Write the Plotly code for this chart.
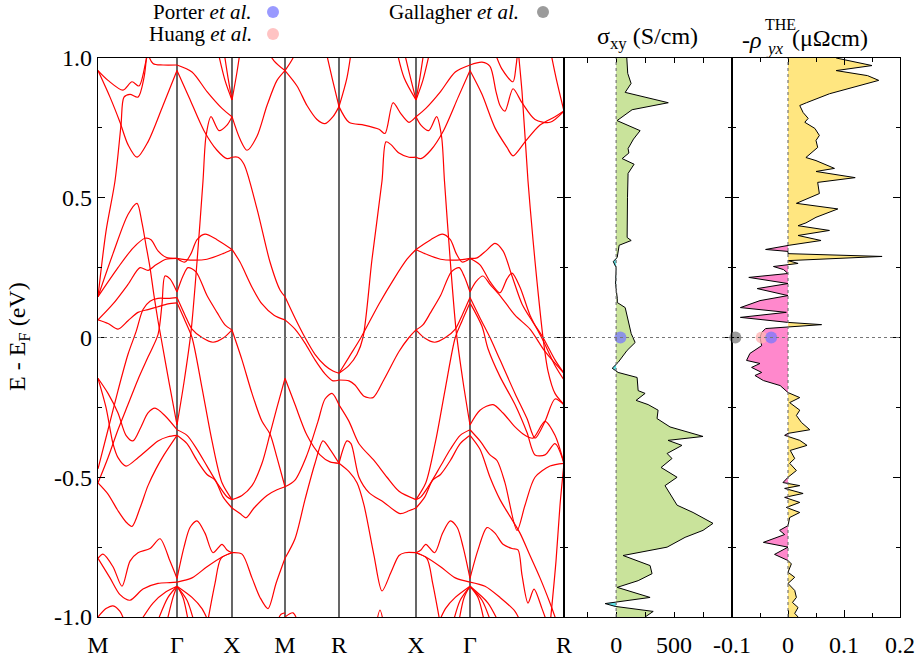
import plotly.graph_objects as go

# ---------------- band structure (k in path units, E in eV) ----------------
kpath_labels = ["M", "Γ", "X", "M", "R", "X", "Γ", "R"]
kpath_pos = [0, 79, 134, 187, 241, 318, 372, 466]

# bands along M-Γ  (d measured from M, segment length 79)
MG_bands = [
    [(0, .955), (10, .92), (25, .885), (34, .915), (41, .90), (48, .99), (53, 1.07)],
    [(0, .955), (12, .86), (22, .77), (30, .69), (39, .645), (50, .70), (65, .83), (79, .955)],
    [(0, .146), (8, .38), (17, .56), (23, .76), (26, .86), (32, .87), (40, .86), (46, .93), (50, 1.07)],
    [(45, 1.07), (55, .98), (65, .975), (79, .975)],
    [(0, .146), (15, .30), (30, .44), (39, .48), (44, .41), (48, .33), (52, .25), (56, .15), (60, .06),
     (63, 0.0), (71, -.16), (79, -.313)],
    [(0, .146), (20, .25), (35, .32), (47, .355), (53, .35), (60, .31), (68, .287), (79, .283)],
    [(0, .063), (15, .12), (30, .19), (42, .25), (50, .24), (58, .26), (68, .28), (79, .283)],
    [(0, -.52), (10, -.43), (20, -.33), (30, -.24), (40, -.15), (50, -.07), (60, .01), (64, .12),
     (67, .22), (72, .21), (79, .163)],
    [(0, -.47), (10, -.33), (20, -.19), (30, -.06), (38, .02), (45, .10), (52, .13), (60, .14), (70, .14),
     (79, .143)],
    [(0, .063), (10, .05), (20, .03), (30, .06), (40, .09), (50, .10), (60, .11), (70, .12), (79, .124)],
    [(0, -.146), (10, -.20), (20, -.27), (28, -.35), (35, -.37), (43, -.32), (50, -.27), (57, -.253),
     (67, -.28), (79, -.33)],
    [(0, -.146), (8, -.25), (15, -.38), (20, -.43), (28, -.46), (40, -.43), (50, -.40), (60, -.37),
     (70, -.355), (79, -.35)],
    [(0, -.52), (10, -.56), (20, -.62), (28, -.66), (34, -.676), (42, -.61), (50, -.53), (58, -.47),
     (66, -.42), (79, -.35)],
    [(0, -.79), (5, -.775), (15, -.82), (24, -.89), (32, -.80), (40, -.77), (52, -.755), (62, -.72),
     (72, -.80), (79, -.862)],
    [(0, -.79), (12, -.86), (22, -.92), (32, -.94), (45, -.90), (60, -.88), (72, -.877), (79, -.875)],
    [(0, -1.0), (8, -.97), (15, -.96), (22, -.98), (28, -1.03)],
    [(40, -1.03), (55, -.95), (68, -.91), (79, -.89)],
    [(58, -1.03), (70, -.93), (79, -.89)],
    [(68, -1.03), (75, -.93), (79, -.89)],
]

# bands along Γ-X (d measured from Γ, length 55); same path X-Γ later in the route
GX_bands = [
    [(0, .975), (15, .95), (30, .88), (45, .82), (55, .79)],
    [(0, .955), (12, .86), (27, .74), (40, .67), (50, .64), (55, .645)],
    [(0, -.313), (7, -.16), (14, .02), (20, .27), (26, .56), (29, .72), (34, .79), (42, .74), (50, .76),
     (55, .79)],
    [(38, 1.07), (48, .92), (55, .85)],
    [(45, 1.07), (51, .93), (55, .85)],
    [(0, .283), (13, .277), (30, .28), (46, .30), (55, .315)],
    [(0, .283), (8, .27), (14, .30), (20, .35), (28, .37), (40, .35), (55, .315)],
    [(0, .163), (6, .22), (11, .25), (19, .235), (30, .15), (40, .09), (48, .045), (55, .027)],
    [(0, .143), (8, .08), (15, .03), (25, 0.0), (36, -.017), (47, 0.0), (55, .027)],
    [(0, .124), (8, .06), (15, 0.0), (25, -.18), (35, -.37), (45, -.52), (55, -.58)],
    [(0, -.33), (10, -.35), (20, -.40), (30, -.46), (40, -.52), (50, -.57), (55, -.58)],
    [(0, -.35), (10, -.38), (20, -.44), (30, -.49), (38, -.51), (46, -.57), (55, -.61)],
    [(0, -.862), (7, -.75), (13, -.68), (20, -.656), (28, -.70), (36, -.77), (45, -.74), (50, -.76),
     (55, -.77)],
    [(0, -.875), (15, -.86), (30, -.82), (45, -.785), (55, -.77)],
    [(0, -.89), (6, -.93), (12, -1.03)],
    [(0, -.89), (10, -.94), (18, -1.03)],
    [(0, -.89), (15, -.93), (25, -.97), (33, -1.03)],
    [(30, -1.03), (38, -.88), (44, -.79), (55, -.77)],
]

# bands along X-M (d from X, length 53)
XM_bands = [
    [(0, .645), (6, .645), (12, .62), (25, .46), (38, .27), (48, .17), (53, .146)],
    [(0, .79), (8, .71), (15, .67), (25, .72), (35, .83), (45, .92), (53, .955)],
    [(0, .85), (5, .95), (10, 1.07)],
    [(28, 1.07), (42, .99), (53, .955)],
    [(0, .315), (8, .27), (20, .18), (30, .12), (42, .08), (53, .063)],
    [(0, .027), (10, -.08), (20, -.20), (30, -.30), (38, -.345), (45, -.43), (53, -.534)],
    [(0, -.58), (10, -.565), (20, -.53), (30, -.45), (38, -.345), (45, -.25), (53, -.146)],
    [(0, -.61), (8, -.63), (14, -.645), (22, -.61), (35, -.565), (45, -.545), (53, -.534)],
    [(0, -.77), (10, -.775), (20, -.86), (28, -.93), (36, -.97), (44, -.88), (53, -.79)],
    [(44, -1.03), (49, -.99), (53, -.985)],
]

# bands along M-R (d from M, length 54)
MR_bands = [
    [(0, .955), (12, .90), (22, .83), (32, .78), (40, .765), (48, .79), (54, .826)],
    [(0, .955), (8, 1.0), (15, 1.07)],
    [(38, 1.07), (47, .93), (54, .826)],
    [(0, .146), (10, .07), (20, 0.0), (30, -.06), (40, -.10), (48, -.12), (54, -.128)],
    [(0, .063), (10, .03), (20, -.02), (30, -.08), (40, -.13), (48, -.155), (54, -.152)],
    [(0, -.146), (10, -.24), (22, -.35), (35, -.42), (45, -.445), (54, -.45)],
    [(0, -.534), (10, -.51), (22, -.42), (33, -.30), (40, -.22), (47, -.20), (54, -.241)],
    [(0, -.79), (10, -.72), (20, -.58), (30, -.45), (38, -.37), (45, -.40), (54, -.45)],
    [(0, -1.0), (8, -.985), (14, -1.03)],
]

# bands along R-X (d from R, length 77)
RX_bands = [
    [(0, .826), (8, .93), (14, 1.07)],
    [(0, .826), (10, .77), (25, .76), (40, .745), (46, .73), (54, .84), (62, .80), (70, .77), (77, .79)],
    [(0, -.128), (10, -.10), (18, -.06), (24, 0.0), (33, .28), (43, .56), (47, .70), (52, .69), (60, .66),
     (70, .645), (77, .645)],
    [(55, 1.07), (65, .93), (77, .85)],
    [(62, 1.07), (70, .95), (77, .85)],
    [(0, -.128), (10, -.07), (22, 0.0), (40, .12), (55, .21), (68, .28), (77, .315)],
    [(0, -.152), (10, -.155), (16, -.17), (25, -.21), (34, -.215), (45, -.15), (60, -.05), (70, 0.0),
     (77, .027)],
    [(0, -.241), (10, -.30), (20, -.38), (35, -.44), (48, -.50), (60, -.55), (77, -.58)],
    [(0, -.45), (8, -.37), (12, -.38), (20, -.50), (30, -.555), (45, -.59), (61, -.63), (70, -.62),
     (77, -.61)],
    [(0, -.45), (10, -.48), (18, -.52), (25, -.60), (35, -.78), (43, -.907), (52, -.84), (60, -.78),
     (66, -.77), (77, -.77)],
    [(37, -1.03), (41, -.975), (45, -1.03)],
]

# bands along Γ-R (d from Γ, length 94)
GR_bands = [
    [(0, .955), (12, .87), (25, .75), (37, .68), (43, .65), (55, .70), (70, .76), (85, .79), (94, .81)],
    [(0, .975), (12, .985), (20, .97), (26, .88), (30, .83), (35, .81), (43, .89), (52, .84), (65, .78),
     (80, .77), (94, .81)],
    [(20, 1.07), (32, .96), (43, .915), (46, .97), (49, 1.07)],
    [(47, 1.07), (52, .88), (58, .56), (63, .35), (67, .20), (73, 0.0), (78, -.12), (85, -.20), (94, -.24)],
    [(78, 1.07), (86, .93), (94, .81)],
    [(0, .283), (7, .285), (16, .31), (25, .337), (33, .31), (42, .22), (52, .12), (62, .06), (73, 0.0),
     (85, -.08), (94, -.128)],
    [(0, .283), (10, .26), (20, .20), (30, .16), (37, .21), (42, .23), (50, .18), (60, .08), (73, -.01),
     (85, -.10), (94, -.152)],
    [(0, .163), (6, .20), (13, .22), (20, .19), (30, .15), (45, .08), (60, .03), (75, -.05), (94, -.128)],
    [(0, .143), (10, .07), (20, 0.0), (30, -.08), (45, -.20), (57, -.29), (65, -.36), (75, -.30),
     (85, -.22), (94, -.241)],
    [(0, .124), (12, .04), (18, -.04), (30, -.14), (45, -.24), (57, -.34), (65, -.42), (75, -.42),
     (85, -.38), (94, -.45)],
    [(0, -.313), (10, -.26), (23, -.24), (33, -.27), (45, -.32), (55, -.35), (63, -.36), (75, -.30),
     (85, -.35), (94, -.45)],
    [(0, -.33), (10, -.37), (20, -.42), (27, -.44), (35, -.52), (47, -.69), (55, -.60), (65, -.50),
     (80, -.46), (94, -.45)],
    [(0, -.35), (10, -.40), (20, -.50), (30, -.58), (40, -.64), (50, -.70), (60, -.78), (70, -.86),
     (80, -.95), (88, -1.03)],
    [(0, -.862), (8, -.76), (17, -.68), (25, -.70), (33, -.74), (42, -.755), (48, -.76), (52, -.85),
     (58, -.95), (64, -.90), (72, -.97), (78, -1.03)],
    [(0, -.875), (15, -.89), (30, -.93), (45, -.98), (52, -1.03)],
    [(0, -.89), (8, -.93), (15, -1.03)],
    [(0, -.89), (12, -.94), (22, -1.03)],
    [(0, -.89), (18, -.95), (30, -1.03)],
    [(80, -1.03), (86, -.80), (90, -.60), (94, -.45)],
]

# route: (start k, end k, bands, nominal length of the band data)
route = [
    (kpath_pos[0], kpath_pos[1], MG_bands, 79),
    (kpath_pos[1], kpath_pos[2], GX_bands, 55),
    (kpath_pos[2], kpath_pos[3], XM_bands, 53),
    (kpath_pos[3], kpath_pos[4], MR_bands, 54),
    (kpath_pos[4], kpath_pos[5], RX_bands, 77),
    (kpath_pos[6], kpath_pos[5], GX_bands, 55),
    (kpath_pos[6], kpath_pos[7], GR_bands, 94),
]

# ---------------- sigma_xy (S/cm) vs E ----------------
sig_E = [1.0, .973, .945, .909, .877, .84, .815, .776, .74, .71, .676, .66, .64, .62, .587, .50, .40, .358,
         .347, .33, .286, .272, .25, .19, .14, .125, .107, .07, .025, .014, -.018, -.046, -.089, -.11,
         -.125, -.143, -.19, -.20, -.225, -.24, -.26, -.29, -.32, -.354, -.368, -.386, -.415, -.433,
         -.465, -.50, -.53, -.558, -.60, -.626, -.665, -.69, -.715, -.75, -.78, -.816, -.845, -.87,
         -.894, -.93, -.94, -.952, -.962, -.98, -1.0]
sig_val = [92, 95, 100, 129, 78, 450, 138, 8, 207, 150, 103, 110, 52, 155, 103, 98, 96, 95,
           130, 26, 9, -25, 0, -5, 10, 10, 78, 100, 130, 130, 164, 95, 17, -34,
           17, 181, 190, 250, 172, 276, 362, 353, 465, 750, 448, 568, 440, 482,
           388, 526, 422, 465, 526, 664, 836, 750, 595, 440, 60, 293, 310, 190,
           9, 293, 120, -95, -9, 320, 250]

# ---------------- -rho_yx^THE (μΩcm) vs E ----------------
rho_E = [1.0, .973, .955, .937, .92, .90, .872, .84, .83, .805, .784, .77, .748, .723, .705, .68, .644,
         .633, .605, .594, .572, .555, .515, .48, .46, .43, .41, .40, .383, .365, .347, .33, .315, .308,
         .30, .29, .275, .265, .254, .243, .229, .215, .193, .175, .15, .132, .107, .09, .072, .054,
         .046, .032, .018, 0.0, -.029, -.057, -.082, -.093, -.107, -.125, -.136, -.154, -.172, -.197,
         -.215, -.233, -.26, -.279, -.304, -.33, -.343, -.35, -.368, -.386, -.404, -.433, -.45, -.476,
         -.50, -.519, -.53, -.54, -.558, -.572, -.59, -.608, -.626, -.644, -.673, -.69, -.705, -.733,
         -.75, -.776, -.798, -.81, -.84, -.858, -.88, -.905, -.93, -.948, -.966, -.987, -1.0]
rho_val = [.086, .150, .086, .142, .162, .127, .074, .033, .021, .027, .036, .030, .048, .056, .050,
           .053, .032, .050, .083, .050, .120, .053, .056, .015, .089, .050, .032, .018, .074, .018,
           .059, .002, -.040, 0.0, 0.0, .168, 0.0, .018, -.026, -.008, 0.0, -.070, 0.0, -.055, 0.0,
           -.050, -.085, -.003, -.085, 0.0, .060, -.040, -.047, -.050, -.047, -.068, -.074, -.050,
           -.065, -.047, -.059, -.044, -.014, 0.0, .021, .003, .021, .015, .024, .039, 0.0, -.006,
           .021, .034, .004, .012, .003, .015, 0.0, -.009, .021, -.006, .027, -.006, .021, -.003,
           .021, .003, 0.0, -.015, -.006, -.044, 0.0, -.024, 0.0, .006, 0.0, .012, 0.0, .012, .015,
           .008, .018, .012, .018]

# ---------------- experimental points at E_F ----------------
porter_sig = 37
porter_rho = -0.030
huang_rho = -0.047
gallagher_rho = -0.094

# ---------------------------------------------------------------------------
FONT = "Liberation Serif, Times New Roman, serif"
FS = 24
W, H = 920, 657
ML, MR_, MT, MB = 98, 20, 58, 40
PW, PH = W - ML - MR_, H - MT - MB


def pxx(x):
    return (x - ML) / PW


def pxy(y):
    return (H - MB - y) / PH


d1 = [0, pxx(564)]
d2 = [pxx(564), pxx(732)]
d3 = [pxx(732), 1]

fig = go.Figure()

# band lines
bx, by = [], []
for k0, k1, bands, L in route:
    for band in bands:
        for d, e in band:
            bx.append(k0 + (k1 - k0) * d / L)
            by.append(e)
        bx.append(None)
        by.append(None)
fig.add_trace(go.Scatter(x=bx, y=by, mode="lines", line=dict(color="#ff0000", width=1.2, shape="spline",
                                                                 smoothing=0.8),
                         connectgaps=False, hoverinfo="skip", showlegend=False, xaxis="x", yaxis="y"))


def split_sign(E, v):
    pe, pv, ne, nv = [], [], [], []
    for i in range(len(E)):
        if i > 0 and v[i - 1] * v[i] < 0:
            t = v[i - 1] / (v[i - 1] - v[i])
            ez = E[i - 1] + t * (E[i] - E[i - 1])
            pe.append(ez); pv.append(0.0); ne.append(ez); nv.append(0.0)
        pe.append(E[i]); pv.append(max(v[i], 0.0))
        ne.append(E[i]); nv.append(min(v[i], 0.0))
    return pe, pv, ne, nv


for E, V, xa, ya, cpos, cneg in [(sig_E, sig_val, "x2", "y2", "#c9e39b", "#5fe3e8"),
                                 (rho_E, rho_val, "x3", "y3", "#ffe680", "#ff88cc")]:
    pe, pv, ne, nv = split_sign(E, V)
    fig.add_trace(go.Scatter(x=pv, y=pe, mode="lines", fill="tozerox", fillcolor=cpos,
                             line=dict(width=0, color=cpos), hoverinfo="skip", showlegend=False,
                             xaxis=xa, yaxis=ya))
    fig.add_trace(go.Scatter(x=nv, y=ne, mode="lines", fill="tozerox", fillcolor=cneg,
                             line=dict(width=0, color=cneg), hoverinfo="skip", showlegend=False,
                             xaxis=xa, yaxis=ya))
    fig.add_trace(go.Scatter(x=V, y=E, mode="lines", line=dict(color="black", width=1),
                             hoverinfo="skip", showlegend=False, xaxis=xa, yaxis=ya))

# experimental markers
BLUE = "rgba(120,120,255,0.75)"
PINK = "rgba(255,180,180,0.8)"
GREY = "rgba(130,130,130,0.8)"
fig.add_trace(go.Scatter(x=[porter_sig], y=[0], mode="markers", marker=dict(size=12, color=BLUE),
                         showlegend=False, xaxis="x2", yaxis="y2"))
fig.add_trace(go.Scatter(x=[gallagher_rho, huang_rho, porter_rho], y=[0, 0, 0], mode="markers",
                         marker=dict(size=12, color=[GREY, PINK, BLUE]),
                         showlegend=False, xaxis="x3", yaxis="y3", cliponaxis=False))

shapes = []
# high-symmetry vertical lines
for k in kpath_pos[1:-1]:
    shapes.append(dict(type="line", xref="x", yref="y", x0=k, x1=k, y0=-1, y1=1,
                       line=dict(color="black", width=1.2), layer="below"))
# E_F dotted line
shapes.append(dict(type="line", xref="paper", yref="y", x0=0, x1=1, y0=0, y1=0,
                   line=dict(color="#777777", width=1.2, dash="dot"), layer="above"))
for xr in ["x2", "x3"]:
    shapes.append(dict(type="line", xref=xr, yref="paper", x0=0, x1=0, y0=0, y1=1,
                       line=dict(color="#777777", width=1.2, dash="dot"), layer="above"))
# legend dots
for (cx, cy, col) in [(273, 12, BLUE), (273, 34, PINK), (543, 12, GREY)]:
    shapes.append(dict(type="circle", xref="paper", yref="paper",
                       x0=pxx(cx - 6), x1=pxx(cx + 6), y0=pxy(cy + 6), y1=pxy(cy - 6),
                       fillcolor=col, line=dict(width=0)))

ann = []
for txt, x, y in [("Porter <i>et al.</i>", 254, 12), ("Huang <i>et al.</i>", 254, 34),
                  ("Gallagher <i>et al.</i>", 521, 12)]:
    ann.append(dict(text=txt, x=pxx(x), y=pxy(y), xref="paper", yref="paper", xanchor="right",
                    yanchor="middle", showarrow=False, font=dict(family=FONT, size=21, color="black")))
ann.append(dict(text="σ<sub>xy</sub> (S/cm)", x=pxx(647), y=pxy(38), xref="paper", yref="paper",
                xanchor="center", yanchor="middle", showarrow=False,
                font=dict(family=FONT, size=FS, color="black")))
ann.append(dict(text="-<i>ρ</i>", x=pxx(740), y=pxy(40), xref="paper", yref="paper",
                xanchor="left", yanchor="middle", showarrow=False,
                font=dict(family=FONT, size=FS, color="black")))
ann.append(dict(text="THE", x=pxx(763), y=pxy(25), xref="paper", yref="paper",
                xanchor="left", yanchor="middle", showarrow=False,
                font=dict(family=FONT, size=16, color="black")))
ann.append(dict(text="<i>yx</i>", x=pxx(764), y=pxy(48), xref="paper", yref="paper",
                xanchor="left", yanchor="middle", showarrow=False,
                font=dict(family=FONT, size=17, color="black")))
ann.append(dict(text="(μΩcm)", x=pxx(790), y=pxy(38), xref="paper", yref="paper",
                xanchor="left", yanchor="middle", showarrow=False,
                font=dict(family=FONT, size=FS, color="black")))
ann.append(dict(text="E - E<sub>F</sub> (eV)", x=pxx(19), y=pxy(337), xref="paper", yref="paper",
                xanchor="center", yanchor="middle", textangle=-90, showarrow=False,
                font=dict(family=FONT, size=FS, color="black")))

axis_common = dict(showline=True, linecolor="black", linewidth=1.2, mirror="allticks",
                   showgrid=False, zeroline=False, tickfont=dict(family=FONT, size=FS, color="black"),
                   ticks="inside", tickcolor="black", automargin=False)

yvals = [-1, -0.5, 0, 0.5, 1]
ytext = ["-1.0", "-0.5", "0", "0.5", "1.0"]
yminor = dict(tickvals=[-0.75, -0.25, 0.25, 0.75], ticks="inside", ticklen=4, tickcolor="black")

fig.update_layout(
    width=W, height=H, margin=dict(l=ML, r=MR_, t=MT, b=MB, autoexpand=False),
    paper_bgcolor="white", plot_bgcolor="white", showlegend=False,
    shapes=shapes, annotations=ann,
    xaxis=dict(axis_common, domain=d1, range=[0, 466], tickmode="array", tickvals=kpath_pos,
               ticktext=kpath_labels, ticks="", anchor="y", ticklabelstandoff=6),
    yaxis=dict(axis_common, domain=[0, 1], range=[-1, 1], tickmode="array", tickvals=yvals,
               ticktext=ytext, ticklen=7, minor=yminor, anchor="x"),
    xaxis2=dict(axis_common, domain=d2, range=[-450, 1000], tickmode="array", tickvals=[0, 500],
                ticktext=["0", "500"], ticklen=5, ticklabelstandoff=6,
                minor=dict(tickvals=[-250, 250, 750], ticks="inside", ticklen=5, tickcolor="black"),
                anchor="y2"),
    yaxis2=dict(axis_common, domain=[0, 1], range=[-1, 1], tickmode="array", tickvals=yvals,
                showticklabels=False, ticklen=7, minor=yminor, anchor="x2"),
    xaxis3=dict(axis_common, domain=d3, range=[-0.1, 0.2], tickmode="array",
                tickvals=[-0.1, 0, 0.1, 0.2], ticktext=["-0.1", "0", "0.1", "0.2"], ticklen=7,
                ticklabelstandoff=6,
                minor=dict(tickvals=[-0.05, 0.05, 0.15], ticks="inside", ticklen=4, tickcolor="black"),
                anchor="y3"),
    yaxis3=dict(axis_common, domain=[0, 1], range=[-1, 1], tickmode="array", tickvals=yvals,
                showticklabels=False, ticklen=7, minor=yminor, anchor="x3"),
)

fig.write_html("out.html")
